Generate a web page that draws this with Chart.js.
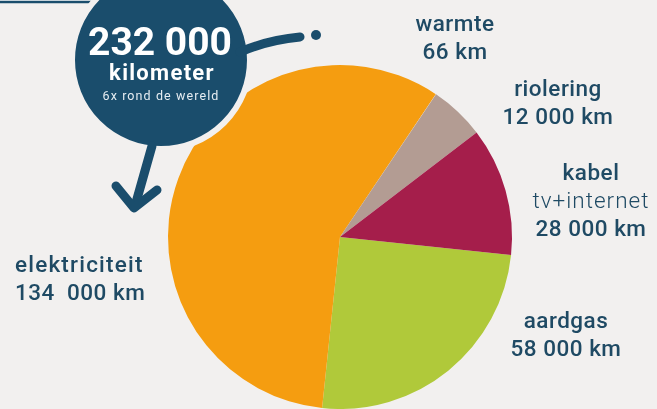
<!DOCTYPE html>
<html>
<head>
<meta charset="utf-8">
<script src="https://cdn.jsdelivr.net/npm/chart.js@4"></script>
<style>
  html, body { margin: 0; padding: 0; }
  body { width: 657px; height: 409px; background: #f2f0ef; overflow: hidden; font-family: Roboto, 'Noto Sans', sans-serif; }
  #stage { position: relative; width: 657px; height: 409px; }
  #chart-wrap { position: absolute; left: 0; top: 0; width: 657px; height: 409px; }
  #deco { position: absolute; left: 0; top: 0; }
  .lbl { position: absolute; color: #1f4a64; font-size: 22.5px; font-weight: 500; line-height: 28px; letter-spacing: 0.5px; white-space: nowrap; }
  .lbl .thin { font-weight: 300; letter-spacing: 1px; }
  .badge { position: absolute; color: #fff; text-align: center; white-space: nowrap; }
</style>
</head>
<body>
<div id="stage">
  <div id="chart-wrap"><canvas id="pie"></canvas></div>

  <!-- navy bubble with arrow and tail -->
  <svg id="deco" width="657" height="409">
    <rect x="0" y="-2" width="112" height="3" fill="#ffffff"/>
    <line x1="0" y1="2" x2="112" y2="2" stroke="#1a4d6c" stroke-width="2.5"/>
    <g fill="none" stroke="#f2f0ef" stroke-width="16" stroke-linecap="round" stroke-linejoin="round">
      <path d="M152 148 L135 206"/>
      <path d="M116 186 L134 208 L157 190"/>
      <path d="M240 52 Q268 40 300 37"/>
    </g>
    <circle cx="161" cy="60" r="89" fill="#1a4d6c" stroke="#f2f0ef" stroke-width="6"/>
    <g fill="none" stroke="#1a4d6c" stroke-width="9" stroke-linecap="round" stroke-linejoin="round">
      <path d="M152 146 L135 206"/>
      <path d="M116 186 L134 208 L157 190"/>
      <path d="M240 52 Q268 40 300 37"/>
    </g>
    <circle cx="316" cy="35" r="5" fill="#1a4d6c"/>
  </svg>

  <div class="badge" style="left:60px; width:200px; top:22px; font-size:39px; font-weight:700; line-height:40px;">232 000</div>
  <div class="badge" style="left:62px; width:200px; top:61px; font-size:22px; font-weight:700; letter-spacing:1.3px; line-height:24px;">kilometer</div>
  <div class="badge" style="left:61px; width:200px; top:89px; font-size:12.5px; font-weight:400; letter-spacing:1.1px; line-height:14px; color:#e6edf2;">6x rond de wereld</div>

  <div class="lbl" style="left:395px; width:120px; top:9px; text-align:center;">warmte<br>66 km</div>
  <div class="lbl" style="left:498px; width:120px; top:74px; text-align:center;">riolering<br>12 000 km</div>
  <div class="lbl" style="left:524px; width:134px; top:158px; text-align:center;">kabel<br><span class="thin">tv+internet</span><br>28 000 km</div>
  <div class="lbl" style="left:15px; top:250px;"><span style="letter-spacing:1.2px;">elektriciteit</span><br>134&nbsp;&nbsp;000 km</div>
  <div class="lbl" style="left:506px; width:120px; top:306px; text-align:center;">aardgas<br>58 000 km</div>
</div>

<script>
// network lengths in km, clockwise from the right
const categories = ['aardgas', 'elektriciteit', 'warmte', 'riolering', 'kabel tv+internet'];
const lengths = [58000, 134000, 66, 12000, 28000];
const sliceColors = ['#b0c93a', '#f59d10', '#f3e2c6', '#b39c93', '#a51e4b'];

const ctx = document.getElementById('pie');
new Chart(ctx, {
    type: 'pie',
    data: {
        labels: categories,
        datasets: [{
            data: lengths,
            backgroundColor: sliceColors,
            borderWidth: 0
        }]
    },
    options: {
        responsive: true,
        maintainAspectRatio: false,
        animation: false,
        rotation: 96,
        layout: {
            padding: { left: 168, right: 145, top: 65, bottom: 0 }
        },
        plugins: {
            legend: { display: false },
            tooltip: { enabled: false }
        }
    }
});
</script>
</body>
</html>
